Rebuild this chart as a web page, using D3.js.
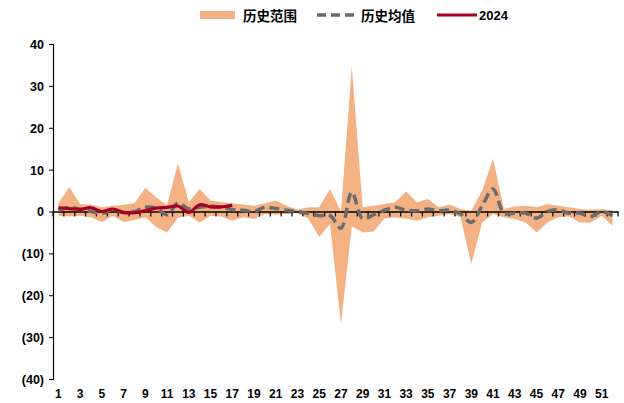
<!DOCTYPE html>
<html><head><meta charset="utf-8">
<script src="https://cdn.jsdelivr.net/npm/d3@7/dist/d3.min.js"></script>
<style>
body{margin:0;background:#fff;}
text{font-family:"Liberation Sans",Arial,sans-serif;font-weight:bold;font-size:12px;fill:#000;}
.cjk{font-family:"Noto Sans CJK SC",sans-serif;font-weight:bold;font-size:13.5px;}
</style></head>
<body>
<svg id="c" width="624" height="403"></svg>
<script>
const weeks = d3.range(1, 53);
const histMax = [2,5.8,1.8,1.6,1.0,1.4,1.6,2,5.7,3.4,1.5,11.5,2.2,5.4,2.6,2.2,2,1.7,1.4,2,2.6,1.4,0.5,1,1,5.4,0,34.7,1,1.4,1.8,2.2,4.8,2.2,3,1,1.7,0.6,0.2,5,12.6,0.6,1.2,1.4,1,1.8,1.4,1,0.6,0.4,0.6,0.3];
const histMin = [-1,-1.2,-1,-1.4,-2.5,-1,-2.5,-2,-1.4,-3.7,-5,-1.5,-1,-2.6,-1,-1.2,-2.2,-1.4,-1.8,-0.6,-0.8,-0.6,-0.4,-1.7,-6.1,-3,-26.9,-3.5,-5,-4.8,-1.7,-1.4,-1.7,-2.2,-1.4,-1,-0.6,-1.4,-12.5,-2.6,-0.6,-1.4,-1.8,-2.6,-5,-2.6,-1.4,-1.2,-2.6,-2.6,-1,-3.4];
const histMean = [0.3,1,0.5,0,-0.5,0.5,-0.3,0,1,0.8,-0.8,2,0.6,1,1.3,1,0.5,0.3,0,1,0.7,0.3,0,-0.5,-1,-1,-4,4.6,-1.7,-0.8,0.3,1,0.3,0.2,0.6,0.2,0.3,-0.6,-2.6,1.4,5.4,-0.4,-0.4,-0.4,-1.6,0,0.4,-0.4,-0.4,-1.2,0,-1];
const y2024 = [0.9,0.7,0.5,0.9,0,0.6,-0.2,-0.3,0.2,0.8,1,1.3,-0.2,1.6,1.1,1.1,1.5];
const yTicks = [40,30,20,10,0,-10,-20,-30,-40];
const xTickLabels = weeks.filter(w => w % 2 === 1);
const seriesNames = ["历史范围","历史均值","2024"];

const svg = d3.select("#c");
const x = d3.scaleBand().domain(weeks).range([53, 618]).padding(0);
const cx = w => x(w) + x.bandwidth()/2;
const y = d3.scaleLinear().domain([-40, 40]).range([379, 44]);

// area
const rng = weeks.map((w,i) => ({w, lo: histMin[i], hi: histMax[i]}));
svg.append("path").datum(rng)
  .attr("d", d3.area().x(d => cx(d.w)).y0(d => y(d.lo)).y1(d => y(d.hi)))
  .attr("fill", "#f4b183");

// y axis
const ya = svg.append("g").attr("transform","translate(53,0)")
  .call(d3.axisLeft(y).tickValues(yTicks).tickSize(4)
    .tickFormat(v => v < 0 ? "(" + Math.abs(v) + ")" : v));
ya.select(".domain").attr("stroke","#000").attr("stroke-width",1.2);
ya.selectAll(".tick line").attr("stroke","#000");
ya.selectAll("text").attr("x",-9).attr("dy","0.35em").style("font-size","12.5px").style("font-weight","bold");

// x axis at zero
const xa = svg.append("g").attr("transform",`translate(0,${y(0)})`)
  .call(d3.axisBottom(x).tickValues([]).tickSizeOuter(0));
xa.select(".domain").attr("stroke","#000").attr("stroke-width",1.5);
const bounds = d3.range(0, weeks.length + 1).map(k => 53 + k * x.bandwidth());
xa.selectAll(".bt").data(bounds).enter().append("line")
  .attr("x1", d => d).attr("x2", d => d).attr("y1", 0).attr("y2", 5)
  .attr("stroke","#000").attr("stroke-width",1.2);

// x labels at bottom
svg.append("g").selectAll("text").data(xTickLabels).enter().append("text")
  .attr("x", d => cx(d)).attr("y", 398).attr("text-anchor","middle").text(d => d);

// mean line
const line = d3.line().x(d => cx(d.w)).y(d => y(d.v)).curve(d3.curveCatmullRom.alpha(0.5));
svg.append("path").datum(weeks.map((w,i)=>({w, v: histMean[i]})))
  .attr("d", line).attr("fill","none").attr("stroke","#6b6b6b")
  .attr("stroke-width",3.5).attr("stroke-dasharray","10,5");

// 2024 line
svg.append("path").datum(y2024.map((v,i)=>({w: weeks[i], v})))
  .attr("d", line).attr("fill","none").attr("stroke","#a50021")
  .attr("stroke-width",3.2);

// legend
const lg = svg.append("g");
lg.append("rect").attr("x",200).attr("y",11).attr("width",35).attr("height",8).attr("fill","#f4b183");
lg.append("text").attr("class","cjk").attr("x",243).attr("y",20.5).text(seriesNames[0]);
lg.append("line").attr("x1",317).attr("x2",354).attr("y1",15).attr("y2",15)
  .attr("stroke","#6b6b6b").attr("stroke-width",3.5).attr("stroke-dasharray","9,5");
lg.append("text").attr("class","cjk").attr("x",361).attr("y",20.5).text(seriesNames[1]);
lg.append("line").attr("x1",437).attr("x2",477).attr("y1",15).attr("y2",15)
  .attr("stroke","#a50021").attr("stroke-width",3);
lg.append("text").attr("x",479).attr("y",20).style("font-size","13px").text(seriesNames[2]);
</script>
</body></html>
